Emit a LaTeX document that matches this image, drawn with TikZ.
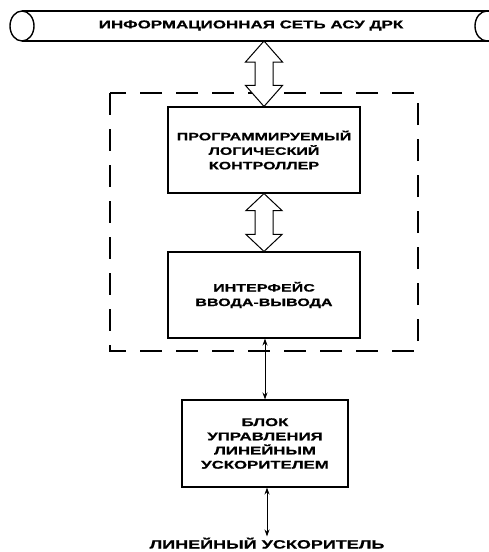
\documentclass[tikz,border=0pt]{standalone}
\usepackage{fontspec}
\setmainfont{Liberation Sans}
\newfontfamily\wf[FakeStretch=1.5,FakeBold=0.8]{Liberation Sans}
\usetikzlibrary{calc,arrows.meta}
\tikzset{
  box/.style={draw, line width=1.1pt, inner sep=0pt, align=center, font=\wf\bfseries\fontsize{10.7}{14.5}\selectfont},
  lbl/.style={inner sep=1pt, align=center, font=\wf\bfseries\fontsize{10}{14}\selectfont},
  hollowarr/.style={draw, line width=1pt, fill=white, line join=miter},
  thin/.style={line width=0.9pt, {Stealth[length=7pt,width=5pt]}-{Stealth[length=7pt,width=5pt]}},
  dashbox/.style={draw, line width=1.2pt, dash pattern=on 22pt off 14pt},
  pipe/.style={line width=1.4pt}
}
\newcommand\dblhollow[5]{% top, bottom, half head, half shaft, head length
  \draw[hollowarr] (#1) -- ++(-#3,#5) -- ++(#3-#4,0) -- ($(#2)+(-#4,-#5)$) -- ++(#4-#3,0)
    -- (#2) -- ++(#3,-#5) -- ++(#4-#3,0) -- ($(#1)+(#4,#5)$) -- ++(#3-#4,0) -- cycle;}
\begin{document}
\begin{tikzpicture}[x=1pt,y=-1pt]
\useasboundingbox (0,0) rectangle (489,552);
% pipe
\begin{scope}
\clip (0,0) rectangle (489,552);
\draw[pipe] (22,11) -- (489,11);
\draw[pipe] (22,41) -- (489,41);
\draw[pipe] (22,26) ellipse [x radius=12, y radius=15];
\draw[pipe] (487,11) arc [start angle=270, end angle=90, x radius=12, y radius=15];
\end{scope}
\node[lbl, font=\wf\bfseries\fontsize{11.3}{12}\selectfont] (net) at (251,25.5) {ИНФОРМАЦИОННАЯ СЕТЬ АСУ ДРК};
\coordinate (pipebot) at (264,41);
% dashed group
\draw[dashbox] (110,93) rectangle (418,351);
% boxes
\node[box, minimum width=192pt, minimum height=86pt] (plc) at (264,150) {ПРОГРАММИРУЕМЫЙ\\ЛОГИЧЕСКИЙ\\КОНТРОЛЛЕР};
\node[box, minimum width=192pt, minimum height=86pt] (io) at (264,295) {ИНТЕРФЕЙС\\ВВОДА-ВЫВОДА};
\node[box, font=\wf\bfseries\fontsize{11.2}{14.2}\selectfont, minimum width=166pt, minimum height=87pt] (ctl) at (265,443.5) {БЛОК\\УПРАВЛЕНИЯ\\ЛИНЕЙНЫМ\\УСКОРИТЕЛЕМ};
\node[lbl, font=\wf\bfseries\fontsize{12}{14}\selectfont, anchor=base] (acc) at (267,548.5) {ЛИНЕЙНЫЙ УСКОРИТЕЛЬ};
% connectors
\dblhollow{pipebot}{plc.north}{18.5}{9}{21}
\dblhollow{plc.south}{io.north}{18}{9}{17}
\draw[thin] (io.south -| ctl.north) -- (ctl.north);
\draw[thin] (ctl.south -| acc.north) -- (acc.north);
\end{tikzpicture}
\end{document}
